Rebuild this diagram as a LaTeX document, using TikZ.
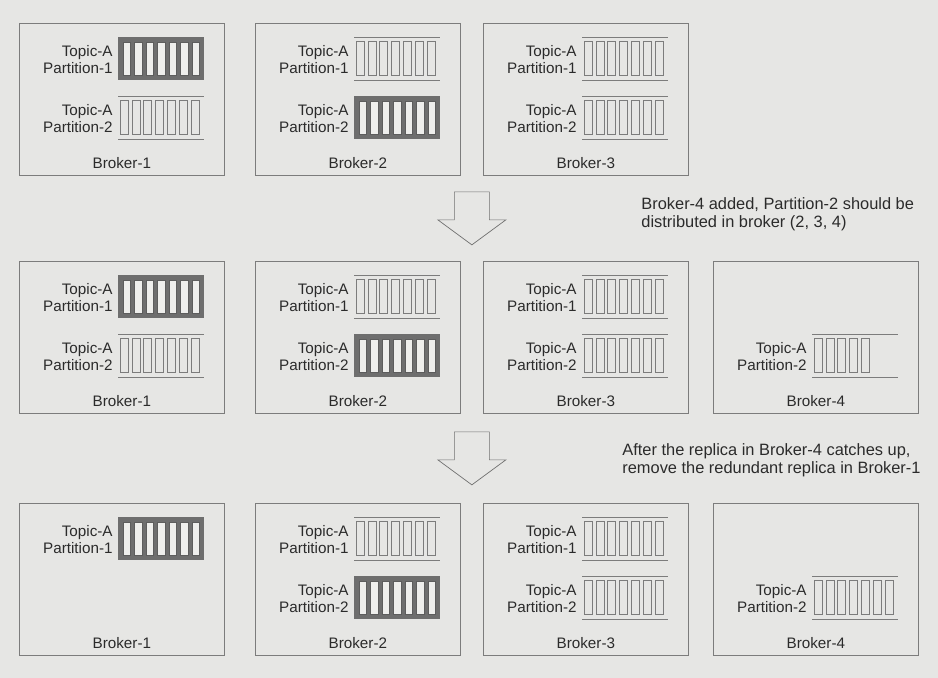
\documentclass[tikz,border=0pt]{standalone}
\usepackage{fontspec}
\setmainfont{Liberation Sans}
\usetikzlibrary{positioning, calc}
\definecolor{paper}{HTML}{E6E6E4}
\definecolor{ink}{HTML}{2B2B2B}
\definecolor{frame}{HTML}{7C7C7C}
\definecolor{lead}{HTML}{6E6E6E}
\definecolor{slot}{HTML}{EEEEEC}

% one partition block with its label, placed inside a broker box
\newcommand{\topicpart}[4]{%
  \pic at ([shift={(99,#2)}]#1.north west) {#3};
  \node[plabel] (#1p#4) at ([shift={(95,#2+22.5)}]#1.north west) {Topic-A\\Partition-#4};
}

\begin{document}
\begin{tikzpicture}[x=0.03cm, y=-0.03cm,
  broker/.style={draw=frame, line width=0.6pt, anchor=north west, inner sep=0pt,
                 minimum width=6.15cm, minimum height=4.56cm},
  bname/.style={text=ink, font=\fontsize{13}{14}\selectfont, inner sep=1pt},
  plabel/.style={text=ink, font=\fontsize{13}{14}\selectfont, align=right,
                 anchor=east, inner sep=1pt},
  note/.style={text=ink, font=\fontsize{14}{15.5}\selectfont, align=left,
               anchor=west, inner sep=1pt},
  leader/.pic={
    \fill[lead] (0,0) rectangle (86,43);
    \foreach \k in {0,...,6}
      \filldraw[fill=slot, draw=lead!85!black, line width=0.4pt]
        ({4.75+11.5*\k},5) rectangle ++(7.5,33);
  },
  pics/follower/.style={code={
    \draw[frame, line width=0.6pt] (0,0) -- (86,0) (0,43) -- (86,43);
    \foreach \k in {1,...,#1}
      \draw[frame, line width=0.5pt] ({2+11.8*(\k-1)},4.5) rectangle ++(8,34);
  }},
  bigarrow/.pic={
    \filldraw[fill=paper, draw=frame!90!black, line width=0.6pt]
      (-17.5,-26.5) -- (17.5,-26.5) -- (17.5,1.5) -- (34,1.5) -- (0,26.5)
      -- (-34,1.5) -- (-17.5,1.5) -- cycle;
  }]
\fill[paper] (0,0) rectangle (938,678);
\useasboundingbox (0,0) rectangle (938,678);

% broker boxes
\foreach \r/\y in {1/23,2/261,3/503}
  \foreach \c/\x in {1/19,2/255,3/483}
    \node[broker] (b\r\c) at (\x,\y) {};
\node[broker] (b24) at (713,261) {};
\node[broker] (b34) at (713,503) {};

\foreach \b/\n in {b11/1,b12/2,b13/3,b21/1,b22/2,b23/3,b24/4,b31/1,b32/2,b33/3,b34/4}
  \node[bname] (\b n) at ([shift={(0,-13)}]\b.south) {Broker-\n};

% before
\topicpart{b11}{14}{leader}{1}
\topicpart{b11}{73}{follower=7}{2}
\topicpart{b12}{14}{follower=7}{1}
\topicpart{b12}{73}{leader}{2}
\topicpart{b13}{14}{follower=7}{1}
\topicpart{b13}{73}{follower=7}{2}

% broker-4 catching up
\topicpart{b21}{14}{leader}{1}
\topicpart{b21}{73}{follower=7}{2}
\topicpart{b22}{14}{follower=7}{1}
\topicpart{b22}{73}{leader}{2}
\topicpart{b23}{14}{follower=7}{1}
\topicpart{b23}{73}{follower=7}{2}
\topicpart{b24}{73}{follower=5}{2}

% after
\topicpart{b31}{14}{leader}{1}
\topicpart{b32}{14}{follower=7}{1}
\topicpart{b32}{73}{leader}{2}
\topicpart{b33}{14}{follower=7}{1}
\topicpart{b33}{73}{follower=7}{2}
\topicpart{b34}{73}{follower=7}{2}

% step arrows
\pic at ($(b12.south east)!0.5!(b23.north west)$) {bigarrow};
\pic at ($(b22.south east)!0.5!(b33.north west)$) {bigarrow};

\node[note] (note1) at (640,214.5)
  {Broker-4 added, Partition-2 should be\\distributed in broker (2, 3, 4)};
\node[note] (note2) at (621,460.5)
  {After the replica in Broker-4 catches up,\\remove the redundant replica in Broker-1};
\end{tikzpicture}
\end{document}
